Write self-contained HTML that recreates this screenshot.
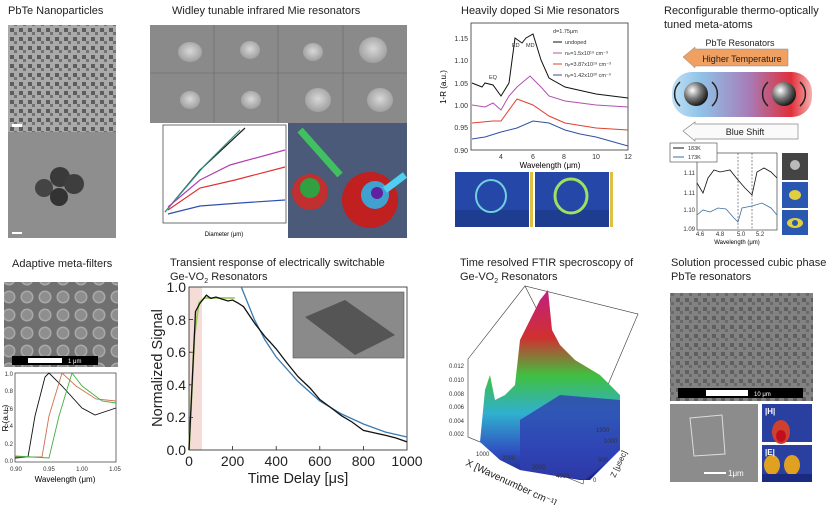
<!DOCTYPE html>
<html><head><meta charset="utf-8"><style>
html,body{margin:0;padding:0;background:#fff;}
body{width:833px;height:505px;position:relative;overflow:hidden;font-family:"Liberation Sans","DejaVu Sans",sans-serif;}
.t{position:absolute;font-size:11px;color:#222;white-space:nowrap;}
svg{position:absolute;left:0;top:0;}
</style></head><body>
<div class="t" style="left:8px;top:5px;">PbTe Nanoparticles</div>
<div class="t" style="left:172px;top:5px;">Widley tunable infrared Mie resonators</div>
<div class="t" style="left:461px;top:5px;">Heavily doped Si Mie resonators</div>
<div class="t" style="left:664px;top:4px;line-height:14px;">Reconfigurable thermo-optically<br>tuned meta-atoms</div>
<div class="t" style="left:12px;top:258px;">Adaptive meta-filters</div>
<div class="t" style="left:170px;top:256px;line-height:14px;">Transient response of electrically switchable<br>Ge-VO<sub style="font-size:7px;line-height:0">2</sub> Resonators</div>
<div class="t" style="left:460px;top:256px;line-height:14px;">Time resolved FTIR specroscopy of<br>Ge-VO<sub style="font-size:7px;line-height:0">2</sub> Resonators</div>
<div class="t" style="left:671px;top:256px;line-height:14px;">Solution processed cubic phase<br>PbTe resonators</div>

<svg width="833" height="505" viewBox="0 0 833 505" font-family="Liberation Sans, sans-serif">
<defs>
<pattern id="dots" width="18" height="18" patternUnits="userSpaceOnUse"><rect width="18" height="18" fill="#707070"/><circle cx="9" cy="9" r="6.5" fill="#a8a8a8"/><circle cx="9" cy="9" r="5" fill="#8e8e8e"/></pattern>
<pattern id="np" width="9" height="9" patternUnits="userSpaceOnUse"><rect width="9" height="9" fill="#b0b0b0"/><rect x="1" y="1" width="4" height="4" fill="#4a4a4a"/><rect x="5" y="5" width="3" height="3" fill="#666"/></pattern>
<radialGradient id="ball" cx="0.35" cy="0.35" r="0.7"><stop offset="0" stop-color="#fff"/><stop offset="0.5" stop-color="#777"/><stop offset="1" stop-color="#111"/></radialGradient>
<linearGradient id="grad" x1="0" x2="1"><stop offset="0" stop-color="#bfe0f5"/><stop offset="0.2" stop-color="#8fc3e8"/><stop offset="0.55" stop-color="#a77cb8"/><stop offset="0.85" stop-color="#e0303a"/><stop offset="1" stop-color="#f5b0b0"/></linearGradient>
<radialGradient id="semb" cx="0.5" cy="0.45" r="0.6"><stop offset="0" stop-color="#d8d8d8"/><stop offset="1" stop-color="#9a9a9a"/></radialGradient>
<linearGradient id="surf" x1="0" y1="0" x2="0" y2="1"><stop offset="0" stop-color="#c02080"/><stop offset="0.25" stop-color="#d03030"/><stop offset="0.45" stop-color="#40c040"/><stop offset="0.65" stop-color="#30b0d0"/><stop offset="0.85" stop-color="#3050c0"/><stop offset="1" stop-color="#202080"/></linearGradient>
</defs>

<!-- PbTe nanoparticles -->
<rect x="8" y="25" width="108" height="107" fill="url(#np)"/>
<rect x="8" y="25" width="108" height="107" fill="#999" opacity="0.25"/>
<rect x="12" y="124" width="10" height="3" fill="#fff"/>
<rect x="8" y="132" width="108" height="106" fill="#8e8e8e"/>
<circle cx="44" cy="188" r="9" fill="#444"/><circle cx="60" cy="177" r="10" fill="#3a3a3a"/><circle cx="74" cy="184" r="10" fill="#3e3e3e"/><circle cx="59" cy="197" r="9" fill="#333"/>
<rect x="12" y="232" width="10" height="2" fill="#fff"/>

<!-- SEM grid -->
<rect x="150" y="25" width="257" height="98" fill="#8a8a8a"/>
<g fill="url(#semb)">
<ellipse cx="190" cy="52" rx="12" ry="10"/><ellipse cx="250" cy="50" rx="10" ry="9"/><ellipse cx="313" cy="52" rx="10" ry="9"/><ellipse cx="373" cy="50" rx="14" ry="13"/>
<ellipse cx="190" cy="100" rx="10" ry="9"/><ellipse cx="251" cy="100" rx="10" ry="9"/><ellipse cx="318" cy="100" rx="13" ry="12"/><ellipse cx="380" cy="100" rx="13" ry="12"/>
</g>
<g stroke="#666" stroke-width="0.6"><line x1="214" y1="25" x2="214" y2="123"/><line x1="278" y1="25" x2="278" y2="123"/><line x1="343" y1="25" x2="343" y2="123"/><line x1="150" y1="73" x2="407" y2="73"/></g>
<!-- Mie plot -->
<rect x="163" y="125" width="123" height="98" fill="#fff" stroke="#333" stroke-width="0.7"/>
<g fill="none" stroke-width="1.2">
<polyline points="165,212 200,170 245,128" stroke="#222"/>
<polyline points="165,212 205,165 240,130" stroke="#2a9a8a"/>
<polyline points="168,207 200,180 230,165 285,150" stroke="#b040b0"/>
<polyline points="168,210 200,188 235,180 285,167" stroke="#e03030"/>
<polyline points="168,214 200,206 240,203 285,200" stroke="#3050b0"/>
</g>
<text x="224" y="236" font-size="6" text-anchor="middle">Diameter (μm)</text>
<!-- 3D render -->
<rect x="288" y="123" width="119" height="115" fill="#4a5a78"/>
<circle cx="310" cy="192" r="18" fill="#c03030"/><circle cx="310" cy="188" r="10" fill="#30a040"/>
<circle cx="370" cy="200" r="28" fill="#c02020"/><circle cx="375" cy="195" r="14" fill="#40a0d0"/><circle cx="377" cy="193" r="6" fill="#6020a0"/>
<line x1="300" y1="130" x2="340" y2="175" stroke="#40c060" stroke-width="7"/>
<line x1="405" y1="175" x2="385" y2="190" stroke="#50d0f0" stroke-width="7"/>

<!-- Heavily doped Si -->
<rect x="471" y="23" width="157" height="127" fill="none" stroke="#333" stroke-width="0.8"/>
<g font-size="7" fill="#333" text-anchor="end">
<text x="468" y="41">1.15</text><text x="468" y="63">1.10</text><text x="468" y="86">1.05</text><text x="468" y="108">1.00</text><text x="468" y="130">0.95</text><text x="468" y="153">0.90</text></g>
<g font-size="7" fill="#333" text-anchor="middle"><text x="501" y="159">4</text><text x="533" y="159">6</text><text x="564" y="159">8</text><text x="596" y="159">10</text><text x="628" y="159">12</text></g>
<text x="550" y="168" font-size="8" text-anchor="middle">Wavelength (μm)</text>
<text transform="translate(446,87) rotate(-90)" font-size="8" text-anchor="middle">1-R (a.u.)</text>
<g fill="none" stroke-width="1">
<polyline stroke="#111" points="472,83 482,87 485,83 493,85 501,96 509,83 515,38 522,43 526,38 533,34 541,60 549,78 565,87 596,94 628,98"/>
<polyline stroke="#b050b0" points="472,105 485,107 493,103 501,110 509,96 517,87 530,76 541,87 549,96 565,101 596,105 628,107"/>
<polyline stroke="#e04030" points="472,123 493,121 501,121 517,99 533,105 549,116 565,123 596,128 628,130"/>
<polyline stroke="#3050a0" points="472,139 485,137 501,132 517,128 533,121 549,123 565,130 580,134 596,137 628,146"/>
</g>
<g font-size="5.5" fill="#333"><text x="553" y="33">d=1.75μm</text><text x="565" y="44">undoped</text><text x="565" y="55">n<tspan font-size="4">h</tspan>=1.5x10¹⁹ cm⁻³</text><text x="565" y="66">n<tspan font-size="4">p</tspan>=3.87x10¹⁹ cm⁻³</text><text x="565" y="77">n<tspan font-size="4">p</tspan>=1.42x10²⁰ cm⁻³</text>
<text x="512" y="47">ED</text><text x="526" y="47">MD</text><text x="489" y="79">EQ</text></g>
<g stroke-width="1"><line x1="553" y1="42" x2="562" y2="42" stroke="#111"/><line x1="553" y1="53" x2="562" y2="53" stroke="#b050b0"/><line x1="553" y1="64" x2="562" y2="64" stroke="#e04030"/><line x1="553" y1="75" x2="562" y2="75" stroke="#3050a0"/></g>
<rect x="455" y="172" width="74" height="55" fill="#2548a8"/><rect x="455" y="210" width="74" height="17" fill="#1e3c90"/>
<ellipse cx="491" cy="196" rx="15" ry="16" fill="none" stroke="#70d0e0" stroke-width="2"/>
<rect x="535" y="172" width="74" height="55" fill="#2548a8"/><rect x="535" y="210" width="74" height="17" fill="#1e3c90"/>
<ellipse cx="571" cy="196" rx="16" ry="17" fill="none" stroke="#a0e060" stroke-width="3"/>
<rect x="530" y="172" width="3" height="55" fill="#e0c040"/><rect x="610" y="172" width="3" height="55" fill="#e0c040"/>

<!-- Thermo-optic -->
<text x="740" y="46" font-size="9" text-anchor="middle" fill="#222">PbTe Resonators</text>
<polygon points="683,57 695,47 695,49 788,49 788,66 695,66 695,68" fill="#f0a060" stroke="#888" stroke-width="0.5"/>
<text x="742" y="62" font-size="9" text-anchor="middle" fill="#222">Higher Temperature</text>
<rect x="672" y="72" width="140" height="45" rx="20" fill="url(#grad)"/>
<circle cx="696" cy="94" r="12" fill="url(#ball)"/><circle cx="784" cy="94" r="12" fill="url(#ball)"/>
<g fill="none" stroke="#222" stroke-width="1.5"><path d="M680,82 A16,16 0 0 0 680,106"/><path d="M712,82 A16,16 0 0 1 712,106"/><path d="M768,82 A16,16 0 0 0 768,106"/><path d="M800,82 A16,16 0 0 1 800,106"/></g>
<polygon points="683,131 695,122 695,124 798,124 798,139 695,139 695,141" fill="#fafafa" stroke="#888" stroke-width="0.7"/>
<text x="745" y="135" font-size="9" text-anchor="middle" fill="#222">Blue Shift</text>
<rect x="697" y="153" width="80" height="77" fill="#fff" stroke="#444" stroke-width="0.7"/>
<rect x="670" y="143" width="47" height="19" fill="#fff" stroke="#444" stroke-width="0.6"/>
<g font-size="5.5" fill="#333"><text x="688" y="150">183K</text><text x="688" y="159">173K</text></g>
<line x1="673" y1="148" x2="684" y2="148" stroke="#111"/><line x1="673" y1="157" x2="684" y2="157" stroke="#3a70a0"/>
<polyline fill="none" stroke="#111" stroke-width="0.8" points="697,183 703,193 708,178 714,170 720,172 730,170 738,180 745,188 752,195 757,172 764,168 771,172 777,178"/>
<polyline fill="none" stroke="#3a70a0" stroke-width="0.8" points="697,215 703,210 710,212 718,208 726,209 734,218 738,222 742,208 752,206 762,203 771,208 777,215"/>
<g stroke="#444" stroke-dasharray="2,1.5" stroke-width="0.6"><line x1="738" y1="153" x2="738" y2="230"/><line x1="752" y1="153" x2="752" y2="230"/></g>
<g font-size="6" fill="#333" text-anchor="end"><text x="695" y="175">1.11</text><text x="695" y="195">1.11</text><text x="695" y="212">1.10</text><text x="695" y="231">1.09</text></g>
<g font-size="6" fill="#333" text-anchor="middle"><text x="700" y="236">4.6</text><text x="720" y="236">4.8</text><text x="741" y="236">5.0</text><text x="760" y="236">5.2</text></g>
<text x="737" y="244" font-size="6" text-anchor="middle">Wavelength (μm)</text>
<rect x="782" y="153" width="26" height="27" fill="#444"/><circle cx="795" cy="165" r="5" fill="#bbb"/>
<rect x="782" y="182" width="26" height="26" fill="#2a58b0"/><ellipse cx="795" cy="195" rx="6" ry="5" fill="#e0d040"/>
<rect x="782" y="210" width="26" height="25" fill="#2a58b0"/><ellipse cx="795" cy="223" rx="8" ry="5" fill="#e0d040"/><ellipse cx="795" cy="223" rx="3" ry="3" fill="#2a58b0"/>

<!-- Adaptive meta-filters -->
<rect x="4" y="282" width="114" height="85" fill="url(#dots)"/>
<rect x="12" y="356" width="86" height="9" fill="#000"/><rect x="28" y="358" width="34" height="5" fill="#fff"/>
<text x="68" y="363" font-size="6" fill="#fff">1 μm</text>
<rect x="15" y="373" width="101" height="89" fill="#fff" stroke="#333" stroke-width="0.7"/>
<g fill="none" stroke-width="0.9">
<polyline stroke="#111" points="15,458 28,457 35,416 45,377 49,373 62,386 82,408 95,415 116,408"/>
<polyline stroke="#d07050" points="15,457 42,457 49,416 62,373 76,386 96,399 116,401"/>
<polyline stroke="#40b040" points="15,456 49,458 59,416 72,373 82,386 102,401 116,403"/>
</g>
<g font-size="6" fill="#333" text-anchor="end"><text x="13" y="376">1.0</text><text x="13" y="393">0.8</text><text x="13" y="411">0.6</text><text x="13" y="428">0.4</text><text x="13" y="446">0.2</text><text x="13" y="463">0.0</text></g>
<g font-size="6" fill="#333" text-anchor="middle"><text x="16" y="471">0.90</text><text x="49" y="471">0.95</text><text x="82" y="471">1.00</text><text x="115" y="471">1.05</text></g>
<text x="65" y="482" font-size="8" text-anchor="middle">Wavelength (μm)</text>
<text transform="translate(8,418) rotate(-90)" font-size="8" text-anchor="middle">R (a.u.)</text>

<!-- Transient -->
<rect x="189" y="287" width="13" height="163" fill="#f5dcd6"/>
<rect x="189" y="287" width="218" height="163" fill="none" stroke="#222" stroke-width="0.8"/>
<g stroke="#222" stroke-width="0.8"><line x1="232.6" y1="450" x2="232.6" y2="446"/><line x1="276.2" y1="450" x2="276.2" y2="446"/><line x1="319.8" y1="450" x2="319.8" y2="446"/><line x1="363.4" y1="450" x2="363.4" y2="446"/>
<line x1="189" y1="417.4" x2="193" y2="417.4"/><line x1="189" y1="384.8" x2="193" y2="384.8"/><line x1="189" y1="352.2" x2="193" y2="352.2"/><line x1="189" y1="319.6" x2="193" y2="319.6"/></g>
<g font-size="14" fill="#222" text-anchor="end"><text x="186" y="292">1.0</text><text x="186" y="325">0.8</text><text x="186" y="357">0.6</text><text x="186" y="390">0.4</text><text x="186" y="422">0.2</text><text x="186" y="455">0.0</text></g>
<g font-size="14" fill="#222" text-anchor="middle"><text x="189" y="466">0</text><text x="232.6" y="466">200</text><text x="276.2" y="466">400</text><text x="319.8" y="466">600</text><text x="363.4" y="466">800</text><text x="407" y="466">1000</text></g>
<text x="298" y="483" font-size="14.5" text-anchor="middle" fill="#222">Time Delay [μs]</text>
<text transform="translate(162,368) rotate(-90)" font-size="14.5" text-anchor="middle" fill="#222">Normalized Signal</text>
<rect x="293" y="292" width="111" height="66" fill="#8a8a8a" stroke="#555" stroke-width="0.6"/>
<polygon points="305,317 345,300 395,335 355,355" fill="#555"/>
<g fill="none" stroke-width="1.3">
<polyline stroke="#3a7ab0" points="241.3,287 254.4,319.6 265,340 276.2,357 298,381.5 319.8,401 341.6,414 363.4,424 385.2,432 407,437"/>
<polyline stroke="#a0cc60" stroke-width="1.8" points="189,450 194.5,336 198.8,303 204.3,298 234.8,298"/>
<polyline stroke="#111" points="189,450 195.5,311.5 199.9,303.3 206.4,295.2 210.8,298.4 216,297 221.7,299 228,301 232.6,300 238,303 243.5,306.6 254.4,322.9 265.3,337 270,342 276.2,348.9 287,363 298,376.6 310,388 319.8,399.5 330,407 341.6,415.8 352,422 363.4,430.4 375,433 385.2,435.3 396,438 407,441.9"/>
</g>

<!-- 3D FTIR -->
<g fill="none" stroke="#333" stroke-width="0.6">
<polyline points="468,359 525,286 638,314 593,420 583,484 468,437 468,359"/>
<line x1="593" y1="420" x2="525" y2="286"/>
</g>
<path d="M480,442 L485,390 L490,375 L495,400 L505,395 L515,385 L520,340 L540,300 L548,290 L552,330 L560,345 L575,360 L600,375 L620,395 L620,450 L590,480 L580,480 L520,470 L500,460 Z" fill="url(#surf)"/>
<path d="M520,420 L560,395 L620,400 L620,450 L585,480 L520,470 Z" fill="#3040b0" opacity="0.8"/>
<g font-size="6" fill="#333" text-anchor="end"><text x="464" y="368">0.012</text><text x="464" y="382">0.010</text><text x="464" y="396">0.008</text><text x="464" y="409">0.006</text><text x="464" y="423">0.004</text><text x="464" y="436">0.002</text></g>
<g font-size="6" fill="#333"><text x="476" y="456">1000</text><text x="502" y="460">2000</text><text x="532" y="469">3000</text><text x="556" y="478">4000</text><text x="596" y="432">1500</text><text x="604" y="443">1000</text><text x="598" y="462">500</text><text x="593" y="482">0</text></g>
<text transform="translate(465,465) rotate(25)" font-size="10" fill="#222">X [Wavenumber cm⁻¹]</text>
<text transform="translate(615,478) rotate(-65)" font-size="8" fill="#222">Z [μsec]</text>

<!-- Solution processed -->
<rect x="670" y="293" width="143" height="108" fill="#6a6a6a"/>
<rect x="670" y="293" width="143" height="108" fill="url(#np)" opacity="0.35"/>
<rect x="678" y="388" width="125" height="10" fill="#000"/><rect x="706" y="390" width="42" height="6" fill="#fff"/>
<text x="754" y="396" font-size="6" fill="#fff">10 μm</text>
<rect x="670" y="404" width="88" height="78" fill="#8c8c8c"/>
<polygon points="690,418 722,415 725,454 694,456" fill="none" stroke="#ddd" stroke-width="1"/>
<rect x="704" y="472" width="22" height="2" fill="#fff"/><text x="728" y="476" font-size="8" fill="#fff">1μm</text>
<rect x="762" y="404" width="50" height="38" fill="#2a40a0"/><ellipse cx="781" cy="432" rx="9" ry="12" fill="#d04030"/><ellipse cx="781" cy="436" rx="5" ry="6" fill="#c01020"/>
<rect x="762" y="445" width="50" height="37" fill="#2a40a0"/><ellipse cx="772" cy="465" rx="8" ry="10" fill="#e0a020"/><ellipse cx="792" cy="465" rx="8" ry="10" fill="#e0a020"/><rect x="762" y="474" width="50" height="8" fill="#1a2a80"/>
<text x="765" y="414" font-size="8" fill="#fff" font-weight="bold">|H|</text><text x="765" y="455" font-size="8" fill="#fff" font-weight="bold">|E|</text>
</svg>
</body></html>
